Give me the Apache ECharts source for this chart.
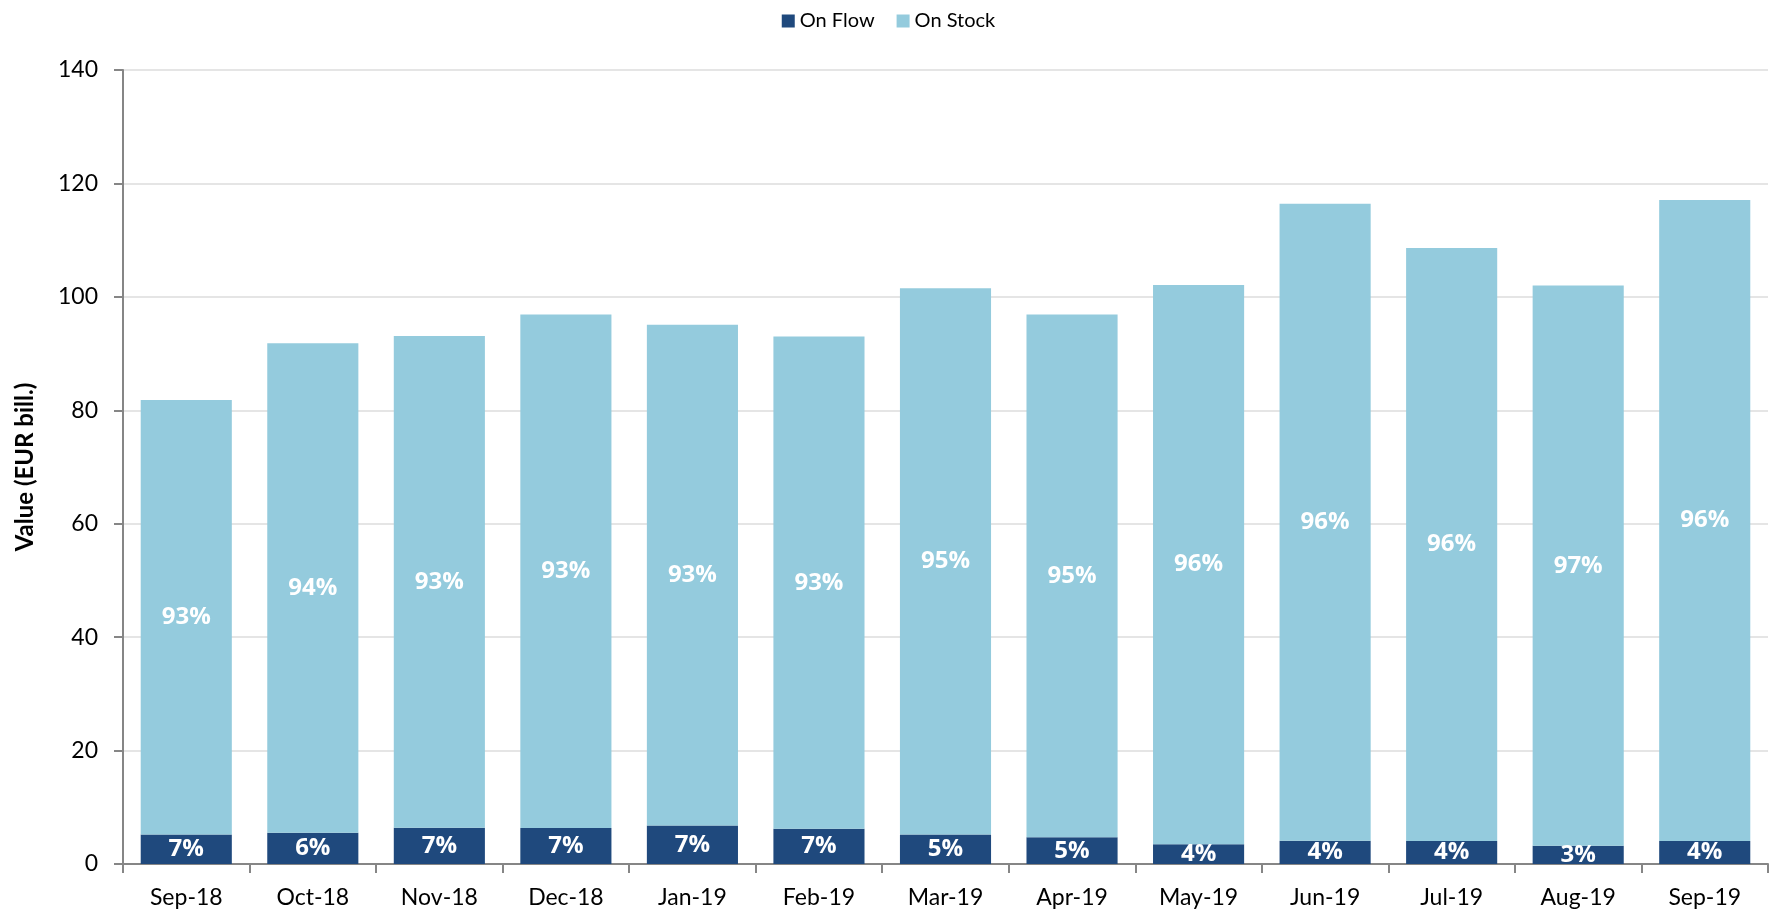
<!DOCTYPE html>
<html>
<head>
<meta charset="utf-8">
<script src="https://cdn.jsdelivr.net/npm/echarts@6/dist/echarts.min.js"></script>
<style>
html,body{margin:0;padding:0;background:#fff;}
#chart{width:1777px;height:913px;}
</style>
</head>
<body>
<div id="chart"></div>
<script>
var categories = ['Sep-18','Oct-18','Nov-18','Dec-18','Jan-19','Feb-19','Mar-19','Apr-19','May-19','Jun-19','Jul-19','Aug-19','Sep-19'];
var onFlow  = [5.2, 5.5, 6.4, 6.35, 6.8, 6.2, 5.2, 4.7, 3.5, 4.1, 4.05, 3.2, 4.05];
var onStock = [76.6, 86.3, 86.7, 90.55, 88.3, 86.8, 96.3, 92.2, 98.6, 112.3, 104.55, 98.8, 113.05];
var flowPct  = ['7%','6%','7%','7%','7%','7%','5%','5%','4%','4%','4%','3%','4%'];
var stockPct = ['93%','94%','93%','93%','93%','93%','95%','95%','96%','96%','96%','97%','96%'];
var yTicks = {min: 0, max: 140, interval: 20};

var FONT = 'Lato, "Open Sans", sans-serif';
var chart = echarts.init(document.getElementById('chart'));
var labelStyle = {
  show: true, position: 'inside', color: '#fff', fontFamily: '"Open Sans", sans-serif',
  fontWeight: 'bold', fontSize: 24
};
chart.setOption({
  animation: false,
  legend: {
    top: 6, left: 'center', itemWidth: 13, itemHeight: 13, itemGap: 22,
    icon: 'rect',
    textStyle: {fontFamily: FONT, fontSize: 20, color: '#000'},
    data: ['On Flow', 'On Stock']
  },
  grid: {left: 123, right: 9, top: 70, bottom: 49, containLabel: false},
  xAxis: {
    type: 'category', data: categories, boundaryGap: true,
    axisLine: {show: true, lineStyle: {color: '#868686', width: 2}},
    axisTick: {show: true, length: 9, lineStyle: {color: '#868686', width: 2}},
    axisLabel: {fontFamily: FONT, fontSize: 23, color: '#000', margin: 22},
    splitLine: {show: false}
  },
  yAxis: {
    type: 'value', min: yTicks.min, max: yTicks.max, interval: yTicks.interval,
    name: 'Value (EUR bill.)', nameLocation: 'middle', nameGap: 86,
    nameTextStyle: {fontFamily: FONT, fontSize: 24, fontWeight: 'bold', color: '#000'},
    axisLine: {show: true, lineStyle: {color: '#868686', width: 2}},
    axisTick: {show: true, length: 9, lineStyle: {color: '#868686', width: 2}},
    axisLabel: {fontFamily: FONT, fontSize: 23, color: '#000', margin: 25},
    splitLine: {show: true, lineStyle: {color: '#dcdcdc', width: 1.5}}
  },
  series: [
    {
      name: 'On Flow', type: 'bar', stack: 'total', barWidth: '72%',
      itemStyle: {color: '#1f497d'},
      data: onFlow,
      label: Object.assign({}, labelStyle, {formatter: function(p){ return flowPct[p.dataIndex]; }})
    },
    {
      name: 'On Stock', type: 'bar', stack: 'total', barWidth: '72%',
      itemStyle: {color: '#94cbdd'},
      data: onStock,
      label: Object.assign({}, labelStyle, {formatter: function(p){ return stockPct[p.dataIndex]; }})
    }
  ]
});
</script>
</body>
</html>
